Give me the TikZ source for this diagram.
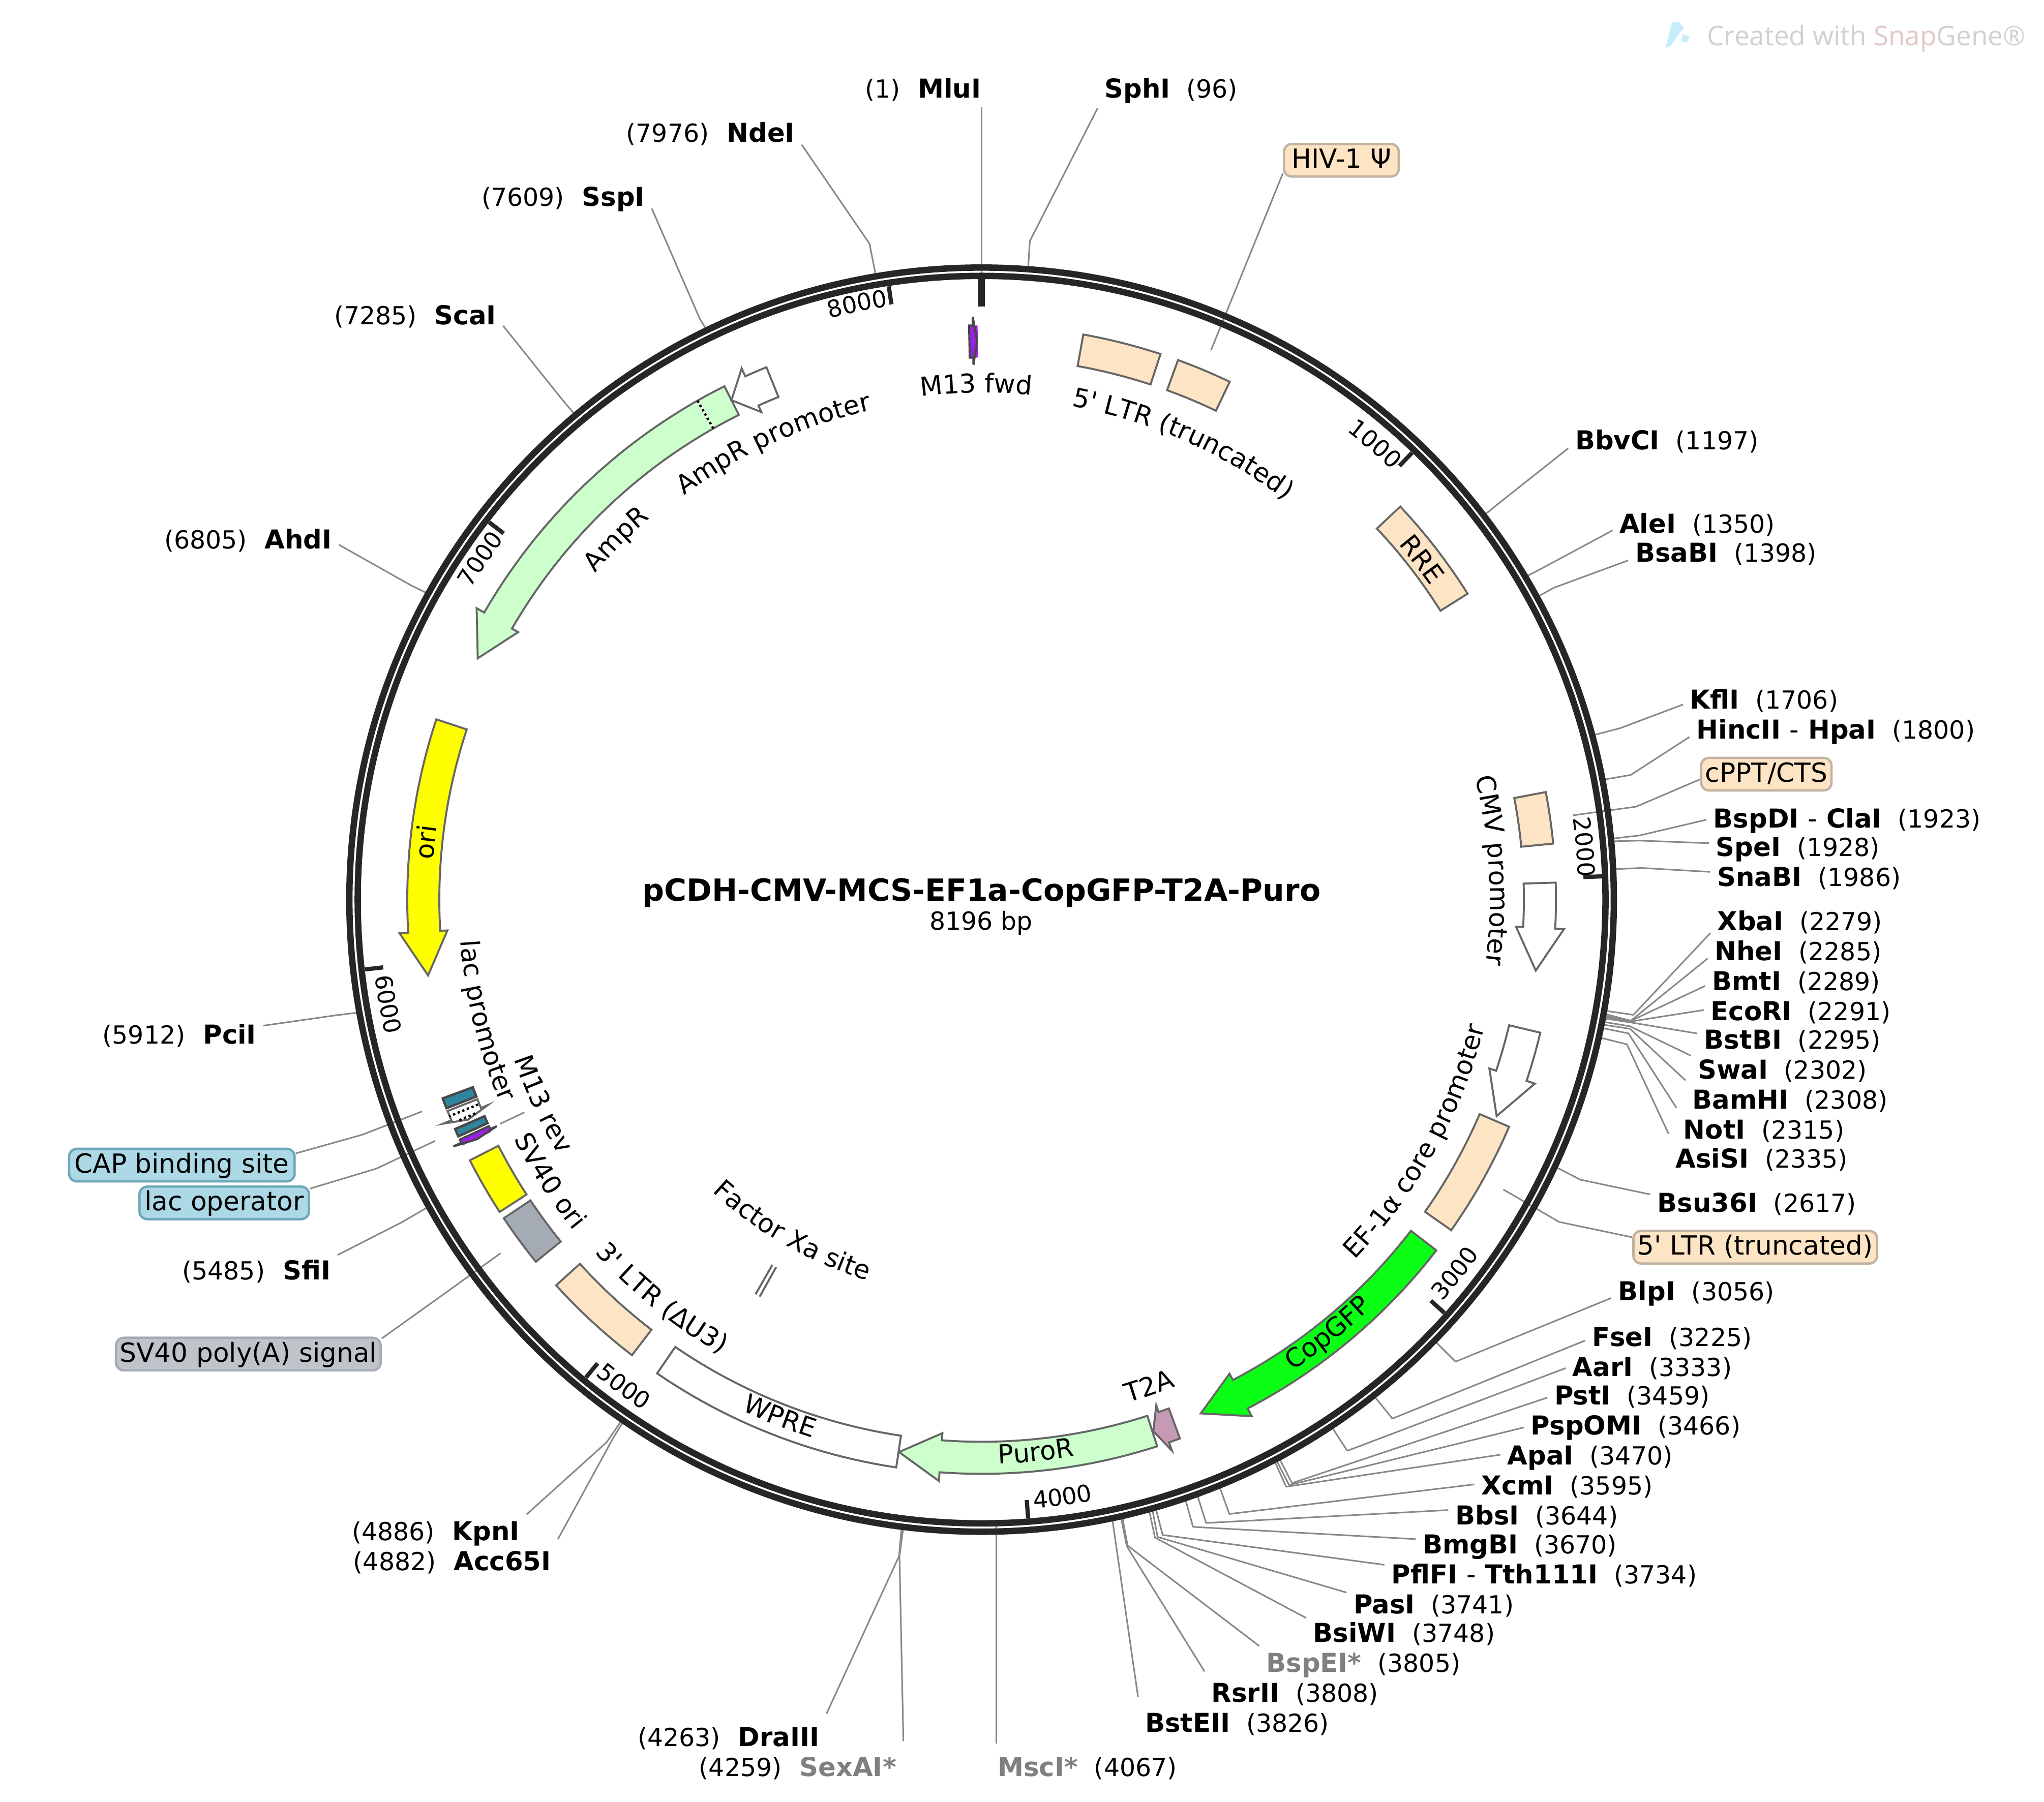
\documentclass[tikz,border=0pt]{standalone}
\usepackage{fontspec}
\usetikzlibrary{decorations.text,calc}
\newfontfamily\djv{DejaVu Sans}
\newfontfamily\opsans{Open Sans}
\newcommand\siteF{\djv\fontsize{9.55}{11}\selectfont}
\newcommand\nameF{\djv\bfseries\fontsize{10}{11}\selectfont}
\newcommand\pillF{\djv\fontsize{10.1}{12}\selectfont}
\newcommand\featF{\djv\fontsize{10}{12}\selectfont}
\newcommand\tickF{\djv\fontsize{9}{11}\selectfont}
\definecolor{ringc}{HTML}{262626}
\definecolor{edge}{HTML}{666666}
\definecolor{leadc}{HTML}{888888}
\definecolor{wheatc}{HTML}{FDE4C4}
\definecolor{lgreen}{HTML}{CCFFCC}
\definecolor{bgreen}{HTML}{0BFF15}
\definecolor{yellowf}{HTML}{FFFF00}
\definecolor{grayf}{HTML}{A4ABB5}
\definecolor{tealf}{HTML}{2F849E}
\definecolor{pinkf}{HTML}{C69AB3}
\definecolor{purplef}{HTML}{9B1FE8}
\definecolor{dimname}{HTML}{808080}
\definecolor{bluepill}{HTML}{ADD8E6}
\tikzset{
  leader/.style={draw=leadc,line width=0.6pt,line join=round},
  feat/.style={draw=edge,line width=0.75pt,line join=miter},
  thinfeat/.style={draw=ringc!85,line width=0.8pt},
  site/.style={font=\siteF,inner sep=2.5pt,text height=7pt,text depth=0pt},
  pill/.style={font=\pillF,rounded corners=3pt,line width=0.9pt,inner sep=0pt,minimum height=12.5pt,text height=7pt,text depth=1pt},
  tickmark/.style={draw=ringc,line width=1.6pt},
}
% right-hand sites: id, left x of text, y, name, position, elbow x, elbow y, end offset
\newcommand{\siteR}[8]{%
  \node[site,anchor=west] (#1) at ({#2-5},#3) {{\nameF #4}\hspace{6.2pt}(#5)};
  \draw[leader] (C) ++({0.0439239*#5-90}:484) -- (#6,#7) -- ([yshift={-(#8)*0.5pt}]#1.west);}
% left-hand sites: id, right x of text, y, name, position, elbow x, elbow y, end offset
\newcommand{\siteL}[8]{%
  \node[site,anchor=east] (#1) at ({#2+5},#3) {(#5)\hspace{6.8pt}{\nameF #4}};
  \draw[leader] (C) ++({0.0439239*#5-90}:484) -- (#6,#7) -- ([yshift={-(#8)*0.5pt}]#1.east);}
\newcommand{\arcbox}[3]{%
  \draw[#1] plot[domain=#2:#3,samples=25] ({\x-90}:416) -- plot[domain=#3:#2,samples=25] ({\x-90}:440.6) -- cycle;}
\newcommand{\arcarrow}[4]{%
  \draw[#1] plot[domain=#2:#3,samples=30] ({\x-90}:416) -- ({#3-90}:410.5) -- ({#4-90}:428.6) -- ({#3-90}:447.3) -- plot[domain=#3:#2,samples=30] ({\x-90}:440.6) -- cycle;}
\newcommand{\curveT}[4]{%
  \path[decorate,decoration={text along path,text align=center,text={|#4|#3}}] plot[domain=#1-60:#1+60,samples=90] ({\x-90}:#2);}
\newcommand{\curveB}[4]{%
  \path[decorate,decoration={text along path,text align=center,text={|#4|#3}}] plot[domain=#1+60:#1-60,samples=90] ({\x-90}:#2);}
\begin{document}
\begin{tikzpicture}[x=0.5pt,y=-0.5pt]
\useasboundingbox (0,0) rectangle (1568,1382.7);
\fill[white] (0,0) rectangle (1568,1382.7);
\coordinate (C) at (753,690.3);
% watermark
\fill[cyan!22] (1277.6,37) -- (1282.7,16.9) -- (1287.8,16.9) -- (1291.9,22) -- (1288.8,24.7) -- (1281.7,35) -- cycle;
\fill[cyan!22] (1290.8,26) -- (1296,28) -- (1294,32.5) -- (1289.8,31.9) -- cycle;
\node[anchor=west,inner sep=0pt,font=\opsans\fontsize{10.35}{13}\selectfont] (wm) at (1309,29.5) {\textcolor{black!18}{Created with }\textcolor{red!50!black!22}{Snap}\textcolor{black!18}{Gene®}};
% title
\node[inner sep=0pt,font=\djv\bfseries\fontsize{11.7}{14}\selectfont] (title) at (753,685) {pCDH-CMV-MCS-EF1a-CopGFP-T2A-Puro};
\node[inner sep=0pt,font=\siteF] (bp) at (752.5,708.5) {8196 bp};
% right-hand sites
\siteR{sph}{847}{68}{SphI}{96}{790}{185}{15}
\siteR{bbv}{1208}{338}{BbvCI}{1197}{1150}{386}{6}
\siteR{ale}{1242}{402}{AleI}{1350}{1183}{436}{5}
\siteR{bsa}{1254}{424}{BsaBI}{1398}{1192}{451}{6}
\siteR{kfl}{1296}{537}{KflI}{1706}{1243}{558.7}{3.6}
\siteR{hinc}{1301}{560}{HincII {\mdseries -} HpaI}{1800}{1251}{594.6}{5.5}
\siteR{bspd}{1314}{628}{BspDI {\mdseries -} ClaI}{1923}{1258}{641}{1}
\siteR{spe}{1316}{650}{SpeI}{1928}{1258}{645}{-3}
\siteR{sna}{1317}{673}{SnaBI}{1986}{1259}{666}{-4}
\siteR{xba}{1317}{707}{XbaI}{2279}{1253}{778.7}{9}
\siteR{nhe}{1315}{730}{NheI}{2285}{1251}{783.2}{5.4}
\siteR{bmt}{1313}{753}{BmtI}{2289}{1250.4}{783.6}{3.5}
\siteR{eco}{1312}{776}{EcoRI}{2291}{1249.6}{784}{-1}
\siteR{bstb}{1307}{798}{BstBI}{2295}{1249.6}{784.3}{-5}
\siteR{swa}{1302}{821}{SwaI}{2302}{1250.4}{787.5}{-11}
\siteR{bam}{1298}{844}{BamHI}{2308}{1250.4}{789.4}{-15}
\siteR{not}{1291}{867}{NotI}{2315}{1249.2}{792.9}{-17}
\siteR{asi}{1285}{889}{AsiSI}{2335}{1248}{801.3}{-19}
\siteR{bsu}{1271}{923}{Bsu36I}{2617}{1212.3}{905.2}{-6.5}
\siteR{blp}{1241}{991}{BlpI}{3056}{1116.6}{1044.8}{5}
\siteR{fse}{1221}{1026}{FseI}{3225}{1068.1}{1088.5}{2.6}
\siteR{aar}{1206}{1049}{AarI}{3333}{1033.5}{1113.2}{0.8}
\siteR{pst}{1192}{1071}{PstI}{3459}{991.1}{1138}{1.4}
\siteR{psp}{1174}{1094}{PspOMI}{3466}{988.9}{1139.5}{1.3}
\siteR{apa}{1156}{1117}{ApaI}{3470}{986.6}{1140.8}{-0.8}
\siteR{xcm}{1136}{1140}{XcmI}{3595}{943}{1161.7}{-1}
\siteR{bbs}{1116}{1163}{BbsI}{3644}{925.2}{1168.6}{-4.3}
\siteR{bmg}{1091}{1185}{BmgBI}{3670}{915.2}{1171.6}{-4}
\siteR{pfl}{1067}{1208}{PflFI {\mdseries -} Tth111I}{3734}{891.9}{1177.8}{-7.3}
\siteR{pas}{1038}{1231}{PasI}{3741}{888}{1179.3}{-9}
\siteR{bsi}{1007}{1253}{BsiWI}{3748}{886}{1179.8}{-11.5}
\siteR{bspe}{971}{1276}{\textcolor{dimname}{BspEI*}}{3805}{865}{1186}{-13}
\siteR{rsr}{929}{1299}{RsrII}{3808}{864.4}{1186.5}{-16.5}
\siteR{bste}{878}{1322}{BstEII}{3826}{856.5}{1188}{-20}
% left-hand sites
\siteL{nde}{610}{102}{NdeI}{7976}{667}{187}{9}
\siteL{ssp}{495}{151}{SspI}{7609}{537}{245}{9}
\siteL{sca}{381}{242}{ScaI}{7285}{431.6}{307}{8}
\siteL{ahd}{255}{414}{AhdI}{6805}{315}{449}{4}
\siteL{pci}{197}{794}{PciI}{5912}{258}{779}{-7}
\siteL{sfi}{254}{975}{SfiI}{5485}{308.7}{937.6}{-12}
\siteL{kpn}{399}{1175}{KpnI}{4886}{465.4}{1106.6}{-13}
\siteL{acc}{423}{1198}{Acc65I}{4882}{470.6}{1103}{-17}
\siteL{dra}{629}{1333}{DraIII}{4263}{689.7}{1194}{-18}
\siteL{sex}{688}{1356}{\textcolor{dimname}{SexAI*}}{4259}{690}{1194}{-20}
% sites with a plain vertical leader
\node[site,anchor=east] (mlu) at (758,68) {(1)\hspace{6.8pt}{\nameF MluI}};
\coordinate (mluE) at (753,82);
\draw[leader] (mluE) -- (753,215);
\node[site,anchor=west] (msc) at (760,1356) {{\nameF\textcolor{dimname}{MscI*}}\hspace{6.2pt}(4067)};
\coordinate (mscE) at (764.4,1338);
\draw[leader] (mscE) -- (764.4,1170);
% pills
\node[pill,fill=wheatc,draw=wheatc!70!black!80,minimum width=44pt] (hiv) at (1029,123) {HIV-1 Ψ};
\node[pill,fill=wheatc,draw=wheatc!70!black!80,minimum width=50pt] (cppt) at (1355,594) {cPPT/CTS};
\node[pill,fill=wheatc,draw=wheatc!70!black!80,minimum width=93.5pt] (ltrp) at (1346.5,957) {5' LTR (truncated)};
\node[pill,fill=bluepill,draw=tealf!70,minimum width=86.5pt] (cap) at (139.5,894) {CAP binding site};
\node[pill,fill=bluepill,draw=tealf!70,minimum width=65pt] (lacop) at (172,923) {lac operator};
\node[pill,fill=grayf!70,draw=grayf,minimum width=101.5pt] (polya) at (190.5,1039) {SV40 poly(A) signal};
\coordinate (hivE) at (929,268.7);
\coordinate (cpptE) at (1206.7,625.6);
\coordinate (ltrE) at (1153.2,912.7);
\coordinate (capE) at (323.8,852.8);
\coordinate (lacE) at (333.6,875.5);
\coordinate (polyE) at (384,961.6);
\coordinate (m13rA) at (383.5,862.4);
\coordinate (m13rB) at (402.3,853.5);
\draw[leader] ([yshift=-5pt]hiv.west) -- (hivE);
\draw[leader] ([yshift=-2pt]cppt.west) -- (1255,619) -- (cpptE);
\draw[leader] ([yshift=3.8pt]ltrp.west) -- (1196,937.6) -- (ltrE);
\draw[leader] ([yshift=4.5pt]cap.east) -- (278.2,870.6) -- (capE);
\draw[leader] ([yshift=5.5pt]lacop.east) -- (288.7,896.7) -- (lacE);
\draw[leader] ([yshift=6pt]polya.east) -- (346,989) -- (polyE);
\draw[leader] (m13rA) -- (m13rB);
% ring
\draw[ringc,line width=2.45pt] (C) circle[radius=485];
\draw[ringc,line width=2.45pt] (C) circle[radius=478.6];
\begin{scope}[shift={(753,690.3)}]
% ticks
\draw[ringc,line width=2.5pt] (-90:476) -- (-90:455);
\foreach \p in {43.92,87.85,131.77,175.7,219.62,263.54,307.47,351.39}{
  \draw[tickmark] ({\p-90}:476) -- ({\p-90}:462);}
\curveT{40.8}{456}{1000}{\tickF}
\curveT{85}{458}{2000}{\tickF}
\curveB{128.3}{469}{3000}{\tickF}
\curveB{172.3}{469}{4000}{\tickF}
\curveB{216.3}{470}{5000}{\tickF}
\curveB{260}{469}{6000}{\tickF}
\curveT{304.2}{459}{7000}{\tickF}
\curveT{348.2}{461}{8000}{\tickF}
% features
\arcbox{feat,fill=wheatc}{10.2}{18.15}
\arcbox{feat,fill=wheatc}{20}{25.6}
\arcbox{feat,fill=wheatc}{46.8}{57.8}
\arcbox{feat,fill=wheatc}{79.2}{84.4}
\arcarrow{feat,fill=white}{88.3}{92.9}{97.3}
\arcarrow{feat,fill=white}{103.4}{108.4}{112.8}
\arcbox{feat,fill=wheatc}{113.3}{125.15}
\arcarrow{feat,fill=bgreen}{127.65}{152.4}{156.9}
\arcarrow{feat,fill=pinkf}{159.8}{160.95}{162.1}
\arcarrow{feat,fill=lgreen}{162.2}{184.2}{188.5}
\arcbox{feat,fill=white}{188.55}{214.4}
\arcbox{feat,fill=wheatc}{217.5}{227.8}
\arcbox{feat,fill=grayf}{230.9}{236.3}
\arcbox{feat,fill=yellowf}{237.05}{243}
% lac region
\arcarrow{feat,fill=white}{248.4}{247.4}{246.8}
\draw[black,densely dotted,line width=0.9pt] ({247.85-90}:417) -- ({247.85-90}:441);
\draw[black,densely dotted,line width=0.9pt] ({247.1-90}:421.7) -- ({247.1-90}:436);
\arcbox{draw=ringc!85,line width=0.9pt,fill=tealf}{248.7}{249.75}
\arcbox{draw=ringc!85,line width=0.9pt,fill=tealf}{245.65}{246.45}
\fill[purplef] plot[domain=244.65:245.25,samples=4] ({\x-90}:416.6) -- plot[domain=245.25:244.65,samples=4] ({\x-90}:440.6) -- cycle;
\arcarrow{thinfeat}{245.3}{244.95}{244.6}
% origin-side arrows
\arcarrow{feat,fill=yellowf}{288.3}{266.7}{262.2}
\arcarrow{feat,fill=lgreen}{333.4}{300}{295.6}
\draw[white,line width=0.8pt] ({330.35-90}:416) -- ({330.35-90}:440.6);
\draw[black,densely dotted,line width=0.9pt] ({330.35-90}:416) -- ({330.35-90}:440.6);
\arcarrow{feat,fill=white}{338}{335.7}{333.4}
% M13 fwd
\fill[purplef] plot[domain=-1.2:-0.4,samples=4] ({\x-90}:416) -- plot[domain=-0.4:-1.2,samples=4] ({\x-90}:440.6) -- cycle;
\arcarrow{thinfeat}{-1.25}{-0.87}{-0.47}
% Factor Xa
\draw[feat] ({209.8-90}:323) -- ({209.8-90}:349);
\draw[feat] ({209.2-90}:323) -- ({209.2-90}:349);
% feature labels
\curveT{-0.6}{389}{M13 fwd}{\featF}
\curveT{23.8}{385}{5' LTR (truncated)}{\featF}
\curveT{52.3}{420}{RRE}{\featF}
\curveT{86.7}{390}{CMV promoter}{\featF}
\curveB{119.1}{398}{EF-1α core promoter}{\featF}
\curveB{141.4}{433}{CopGFP}{\featF}
\curveB{161}{402}{T2A}{\featF}
\curveB{174.4}{433}{PuroR}{\featF}
\curveB{201.3}{433}{WPRE}{\featF}
\curveB{218.7}{402}{3' LTR (ΔU3)}{\featF}
\curveB{209.7}{305}{Factor Xa site}{\featF}
\curveB{236.9}{403}{SV40 ori}{\featF}
\curveB{245}{379}{M13 rev}{\featF}
\curveB{256.3}{401}{lac promoter}{\featF}
\curveT{275.9}{421.5}{ori}{\featF}
\curveT{314.6}{388}{AmpR}{\featF}
\curveT{335.5}{385}{AmpR promoter}{\featF}
\end{scope}
\end{tikzpicture}
\end{document}
